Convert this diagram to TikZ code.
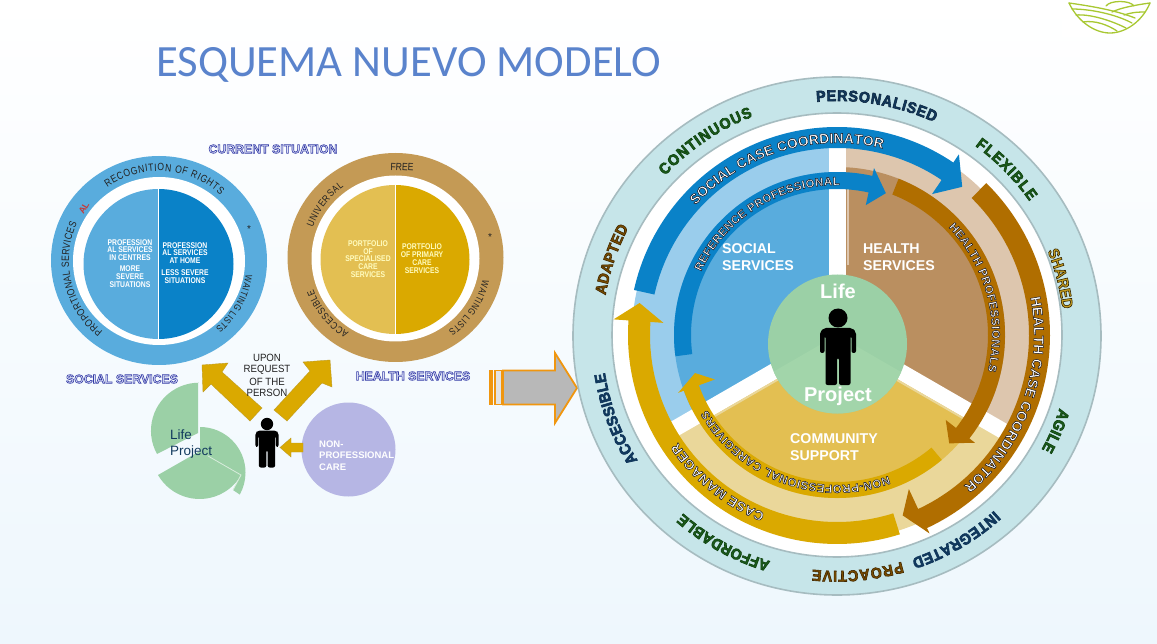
\documentclass[tikz,border=0pt]{standalone}
\usepackage{fontspec}
\setmainfont{Liberation Sans}
\newfontfamily\titlefont{Carlito}
\newfontfamily\arcfont[FakeStretch=0.92]{Liberation Sans}
\newfontfamily\narrowfont[FakeStretch=0.82]{Liberation Sans}
\usetikzlibrary{decorations.text}
\definecolor{bgbottom}{HTML}{EEF7FD}
\definecolor{ringfill}{HTML}{C6E5E9}
\definecolor{ringedge}{HTML}{A6BCC0}
\definecolor{ltblue}{HTML}{9ACDEC}
\definecolor{midblue}{HTML}{59ACDD}
\definecolor{deepblue}{HTML}{0A82C8}
\definecolor{lttan}{HTML}{DDC6AE}
\definecolor{midtan}{HTML}{BA8F60}
\definecolor{deepbrown}{HTML}{B06E00}
\definecolor{ltyellow}{HTML}{EAD79A}
\definecolor{midyellow}{HTML}{E3BF52}
\definecolor{deepgold}{HTML}{DAA900}
\definecolor{greenc}{HTML}{9BD0A6}
\definecolor{greenl}{HTML}{A2D5AA}
\definecolor{sandring}{HTML}{C49A55}
\definecolor{lavender}{HTML}{B6B6E4}
\definecolor{orangeb}{HTML}{F0960F}
\definecolor{grayb}{HTML}{B8B8B8}
\definecolor{titleblue}{HTML}{5A83CC}
\definecolor{logogreen}{HTML}{A8C832}
\definecolor{navy}{HTML}{123A5E}
\definecolor{dgreen}{HTML}{1C5C1C}
\definecolor{olive}{HTML}{C8A020}
\definecolor{brownt}{HTML}{7A4E00}
\definecolor{inkd}{HTML}{222222}
\definecolor{headfill}{HTML}{DFE2F8}
% outline text: fill colour, stroke rgb, stroke width, text
\newcommand\oltext[4]{{\color{#1}\special{pdf:code 2 Tr #3 w #2 RG}#4\special{pdf:code 0 Tr}}}
% bold ring text: cx cy r a1 a2 size fill strokergb text
\newcommand\arctext[9]{%
 \begin{scope}[shift={(#1,#2)},y=1pt]
 \path[decorate,decoration={text along path,text align=fit to path,
   text={|\arcfont\fontsize{#6}{#6}\selectfont\bfseries\color{#7}\special{pdf:code 2 Tr 0.6 w #8 RG}|#9}}]
   ({#3*cos(#4)},{#3*sin(#4)}) arc[start angle=#4,end angle=#5,radius=#3 pt];
 \end{scope}}
% outlined band text: cx cy r a1 a2 size text
\newcommand\bandtext[7]{%
 \begin{scope}[shift={(#1,#2)},y=1pt]
 \path[decorate,decoration={text along path,text align=fit to path,
   text={|\fontsize{#6}{#6}\selectfont\bfseries\color{white}\special{pdf:code 2 Tr 0.5 w 0.08 0.08 0.12 RG}|#7}}]
   ({#3*cos(#4)},{#3*sin(#4)}) arc[start angle=#4,end angle=#5,radius=#3 pt];
 \end{scope}}
\newcommand\thintext[7]{%
 \begin{scope}[shift={(#1,#2)},y=1pt]
 \path[decorate,decoration={text along path,text align=fit to path,
   text={|\narrowfont\fontsize{#6}{#6}\selectfont\color{inkd}|#7}}]
   ({#3*cos(#4)},{#3*sin(#4)}) arc[start angle=#4,end angle=#5,radius=#3 pt];
 \end{scope}}
% band arrow: colour a1 a2 rin rout barbin barbout tipang tipr
\newcommand\bandarrow[9]{%
 \fill[#1] (#2:#4) arc[start angle=#2,end angle=#3,radius=#4 pt]
   -- (#3:#6) -- (#8:#9) -- (#3:#7) -- (#3:#5)
   arc[start angle=#3,end angle=#2,radius=#5 pt] -- cycle;}
% person: cx cy(head) scale
\newcommand\person[3]{%
 \begin{scope}[shift={(#1,#2)},scale=#3]
  \fill[black] (0,0) circle[radius=9.5pt];
  \fill[black,rounded corners=2pt] (-14,10) -- (14,10) -- (18,14) -- (18,35) -- (13.5,35) -- (13.5,18) -- (12.5,18)
    -- (12.5,67) -- (1,67) -- (1,40) -- (-1,40) -- (-1,67) -- (-12.5,67) -- (-12.5,18) -- (-13.5,18) -- (-13.5,35) -- (-18,35) -- (-18,14) -- cycle;
 \end{scope}}
\tikzset{
 whitebold/.style={text=white,font=\narrowfont\bfseries\fontsize{8.3}{8.3}\selectfont,inner sep=0pt},
 creambold/.style={text=white!75!yellow,font=\narrowfont\bfseries\fontsize{8.3}{8.3}\selectfont,inner sep=0pt},
 labelwhite/.style={text=white,font=\bfseries\fontsize{14.2}{17}\selectfont,inner sep=0pt,align=left,anchor=west},
 lilabel/.style={text=white,font=\bfseries\fontsize{20}{20}\selectfont,inner sep=0pt},
 headtext/.style={font=\bfseries\fontsize{12.3}{13}\selectfont,inner sep=0pt},
 goldarrow/.style={fill=deepgold,draw=deepgold!70!gray,line width=0.4pt},
 logoline/.style={draw=logogreen,line width=1.3pt,line cap=round},
 blackc/.style={text=inkd,font=\arcfont\fontsize{10.5}{12}\selectfont,inner sep=0pt},
}
\begin{document}
\begin{tikzpicture}[x=1pt,y=-1pt]
\useasboundingbox (0,0) rectangle (1157,644);
\shade[top color=white,bottom color=bgbottom] (0,0) rectangle (1157,644);
% title
\node[anchor=base west,inner sep=0pt,text=titleblue,font=\titlefont\fontsize{44.7}{45}\selectfont] (title) at (156,77) {ESQUEMA NUEVO MODELO};
% logo
\fill[white] (1062,0) rectangle (1157,37);
\draw[logoline] (1069,3) .. controls (1078,22) and (1095,33) .. (1110,33) .. controls (1125,33) and (1142,22) .. (1150,3);
\draw[logoline] (1069,3) .. controls (1090,6) and (1115,10) .. (1135,18);
\draw[logoline] (1072,9) .. controls (1090,9) and (1115,14) .. (1132,23);
\draw[logoline] (1076,15) .. controls (1090,14) and (1110,20) .. (1126,28);
\draw[logoline] (1083,22) .. controls (1095,20) and (1108,25) .. (1117,31);
\draw[logoline] (1150,3) .. controls (1135,5) and (1120,8) .. (1112,12);
\draw[logoline] (1145,12) .. controls (1135,12) and (1130,13) .. (1124,15);
\draw[logoline] (1106,6) .. controls (1110,0) and (1130,0) .. (1134,6);

%%% LEFT: social services
\fill[midblue] (159,260.5) ellipse[x radius=108pt,y radius=104.5pt];
\fill[white] (159,261) ellipse[x radius=86pt,y radius=84pt];
\begin{scope}[shift={(158.5,264)},y=1pt]
 \fill[midblue] (90:75) arc[start angle=90,end angle=270,radius=75pt] -- cycle;
 \fill[deepblue] (-90:75) arc[start angle=-90,end angle=90,radius=75pt] -- cycle;
 \draw[white,line width=1pt] (0,76) -- (0,-76);
\end{scope}
\thintext{159}{261}{90}{125}{47}{10.5}{RECOGNITION OF RIGHTS}
\thintext{159}{261}{90}{231.5}{155.5}{10.5}{PROPORTIONAL SERVICES}
\thintext{159}{261}{88}{-9}{-50}{9.6}{WAITING LISTS}
\node[rotate=60,text=red!55!gray,font=\bfseries\fontsize{9}{9}\selectfont,inner sep=0pt] (al) at (84,208) {AL};
\node[text=inkd,font=\fontsize{10}{10}\selectfont,inner sep=0pt] (st1) at (249,229) {*};
\node[whitebold] (a1) at (130,243) {PROFESSION};
\node[whitebold] (a2) at (130,250) {AL SERVICES};
\node[whitebold] (a3) at (130,258) {IN CENTRES};
\node[whitebold] (a4) at (130,269) {MORE};
\node[whitebold] (a5) at (130,277) {SEVERE};
\node[whitebold] (a6) at (130,285) {SITUATIONS};
\node[whitebold] (b1) at (185,246) {PROFESSION};
\node[whitebold] (b2) at (185,253) {AL SERVICES};
\node[whitebold] (b3) at (185,261) {AT HOME};
\node[whitebold] (b4) at (185,273) {LESS SEVERE};
\node[whitebold] (b5) at (185,281) {SITUATIONS};

%%% LEFT: health services
\fill[sandring] (395.5,257.5) ellipse[x radius=108pt,y radius=104.5pt];
\fill[white] (395.5,258.5) ellipse[x radius=84pt,y radius=83pt];
\begin{scope}[shift={(395,259.5)},y=1pt]
 \fill[midyellow] (90:74.5) arc[start angle=90,end angle=270,radius=74.5pt] -- cycle;
 \fill[deepgold] (-90:74.5) arc[start angle=-90,end angle=90,radius=74.5pt] -- cycle;
 \draw[white,line width=1pt] (0,75) -- (0,-75);
\end{scope}
\node[rotate=-3,text=inkd,font=\narrowfont\fontsize{10.5}{11}\selectfont,inner sep=0pt] (free) at (402,167) {FREE};
\thintext{395.5}{258}{88}{160}{126}{10}{UNIVERSAL}
\thintext{395.5}{258}{88}{238}{201}{10}{ACCESSIBLE}
\thintext{395.5}{258}{90}{-14}{-54}{9.6}{WAITING LISTS}
\node[text=inkd,font=\fontsize{10}{10}\selectfont,inner sep=0pt] (st2) at (490,237) {*};
\node[creambold] (c1) at (368,244) {PORTFOLIO};
\node[creambold] (c2) at (368,252) {OF};
\node[creambold] (c3) at (368,259) {SPECIALISED};
\node[creambold] (c4) at (368,267) {CARE};
\node[creambold] (c5) at (368,275) {SERVICES};
\node[creambold] (d1) at (422,247) {PORTFOLIO};
\node[creambold] (d2) at (422,255) {OF PRIMARY};
\node[creambold] (d3) at (422,263) {CARE};
\node[creambold] (d4) at (422,271) {SERVICES};
% headings
\node[headtext] (cur) at (273,149) {\oltext{headfill}{0.2 0.23 0.65}{0.6}{CURRENT SITUATION}};
\node[headtext] (soc) at (122,379) {\oltext{headfill}{0.2 0.23 0.65}{0.6}{SOCIAL SERVICES}};
\node[headtext] (hea) at (413,376) {\oltext{headfill}{0.2 0.23 0.65}{0.6}{HEALTH SERVICES}};

%%% life project pie
\fill[greenc] (198,383) -- (198,433) -- (157,454) arc[start angle=209,end angle=90,radius=48pt] -- cycle;
\fill[greenc] (200,427) arc[start angle=90,end angle=-29,radius=45.5pt] -- (233,490) -- (241,475) -- (200,451) -- cycle;
\fill[greenc] (200,451) -- (158,475) arc[start angle=210,end angle=330,radius=48pt] -- cycle;
\draw[white!60!greenc,line width=0.8pt] (208,456) -- (241,475) -- (233,490);
\node[anchor=base west,text=navy,font=\fontsize{13.5}{13.5}\selectfont,inner sep=0pt] (life) at (170,439) {Life};
\node[anchor=base west,text=navy,font=\fontsize{13.5}{13.5}\selectfont,inner sep=0pt] (proj) at (170,455) {Project};

% gold arrows
\filldraw[goldarrow] (262,408) -- (222,372) -- (228,363) -- (202,365) -- (203,392) -- (211,384) -- (250,421) -- cycle;
\filldraw[goldarrow] (274,410) -- (310,371) -- (303,362) -- (330,360) -- (332,387) -- (322,383) -- (287,421) -- cycle;
\node[blackc] (u1) at (267,358) {UPON};
\node[blackc] (u2) at (267,370) {REQUEST};
\node[blackc] (u3) at (267,382) {OF THE};
\node[blackc] (u4) at (267,393) {PERSON};
\person{267}{424}{0.65}
\fill[lavender] (348.5,449.5) circle[radius=47pt];
\filldraw[goldarrow] (303,443) -- (291,443) -- (291,438) -- (280,447.5) -- (291,457) -- (291,452) -- (303,452) -- cycle;
\node[anchor=base west,text=white,font=\bfseries\fontsize{9.5}{9.5}\selectfont,inner sep=0pt] (n1) at (319,447) {NON-};
\node[anchor=base west,text=white,font=\bfseries\fontsize{9.5}{9.5}\selectfont,inner sep=0pt] (n2) at (319,458) {PROFESSIONAL};
\node[anchor=base west,text=white,font=\bfseries\fontsize{9.5}{9.5}\selectfont,inner sep=0pt] (n3) at (319,470) {CARE};

%%% block arrow
\fill[orangeb] (489,370) rectangle (493,405);
\draw[orangeb,line width=1.5pt,fill=white!60!grayb] (495,370.5) rectangle (502,404.5);
\draw[orangeb,line width=1.8pt,fill=grayb,line join=miter] (503,370.5) -- (555,370.5) -- (555,353) -- (577,388) -- (555,423) -- (555,404.5) -- (503,404.5) -- cycle;

%%% RIGHT big diagram
\fill[ringfill,draw=ringedge,line width=1.6pt] (837,336) ellipse[x radius=264pt,y radius=259pt];
\fill[white,draw=ringedge,line width=1.6pt] (837,335) ellipse[x radius=225pt,y radius=222pt];
\begin{scope}[shift={(837,335)},y=1pt]
 \fill[ltblue] (0,0) -- (90:205) arc[start angle=90,end angle=210,radius=205pt] -- cycle;
 \fill[lttan] (0,0) -- (-30:205) arc[start angle=-30,end angle=90,radius=205pt] -- cycle;
 \fill[ltyellow] (0,0) -- (210:205) arc[start angle=210,end angle=330,radius=205pt] -- cycle;
 \fill[midblue] (0,0) -- (90:163) arc[start angle=90,end angle=210,radius=163pt] -- cycle;
 \fill[midtan] (0,0) -- (-30:168) arc[start angle=-30,end angle=90,radius=168pt] -- cycle;
 \fill[midyellow] (0,0) -- (210:163) arc[start angle=210,end angle=330,radius=163pt] -- cycle;
 \draw[white,line width=17pt] (0,0) -- (90:214);
 \draw[white,line width=16pt] (0,0) -- (210:214);
 \draw[white,line width=16pt] (0,0) -- (-30:214);
 \draw[ltyellow,line width=2pt] ([shift={(4.5,-7.8)}]210:70) -- ([shift={(4.5,-7.8)}]210:160);
 \draw[ltyellow,line width=2pt] ([shift={(-4.5,-7.8)}]-30:70) -- ([shift={(-4.5,-7.8)}]-30:160);
 \draw[lttan,line width=2pt] (10.5,70) -- (10.5,160);
 % arrows: gold, brown, blue
 \bandarrow{deepgold}{-72.5}{-184}{187}{209}{174}{224}{-189.2}{200}
 \bandarrow{deepgold}{-50}{-160}{147}{163}{130}{169}{-165}{147}
 \bandarrow{deepbrown}{45.5}{-65}{192}{213}{170}{219}{-70}{192}
 \bandarrow{deepbrown}{68.5}{-38}{151}{168}{138}{175}{-44}{156}
 \bandarrow{deepblue}{167.5}{56}{187}{208}{170}{218}{49.8}{194}
 \bandarrow{deepblue}{187.5}{77.5}{146}{163}{133}{171}{71}{150}
\end{scope}
% centre circle
\fill[greenc] (837.5,344) circle[radius=69.5pt];
\begin{scope}
 \clip (837.5,344) circle[radius=69.5pt];
 \begin{scope}[shift={(837,335)},y=1pt]
  \fill[greenl] (0,0) -- (210:100) -- (270:120) -- (-30:100) -- cycle;
 \end{scope}
\end{scope}
\person{838}{318}{1}
\node[lilabel] (blife) at (838,291) {Life};
\node[lilabel] (bproj) at (838,396) {Project};
\node[labelwhite] (ss) at (722,257.5) {SOCIAL\\SERVICES};
\node[labelwhite] (hs) at (863,257.5) {HEALTH\\SERVICES};
\node[labelwhite] (cs) at (790,447) {COMMUNITY\\SUPPORT};

% band texts
\bandtext{837}{335}{192}{137.5}{77}{14}{SOCIAL CASE COORDINATOR}
\bandtext{837}{335}{150}{155}{89}{11.5}{REFERENCE PROFESSIONAL}
\bandtext{837}{335}{155}{44}{-13.5}{11.5}{HEALTH PROFESSIONALS}
\bandtext{837}{335}{197}{11}{-50}{14}{HEALTH CASE COORDINATOR}
\bandtext{837}{335}{150}{-70}{-150}{11.5}{NON-PROFESSIONAL CAREGIVERS}
\bandtext{837}{335}{192}{-112}{-146}{13.5}{CASE MANAGER}
% ring texts
\arctext{837}{336}{235}{95}{65.5}{15.5}{navy}{0.05 0.15 0.25}{PERSONALISED}
\arctext{837}{336}{235}{137}{111}{15.5}{dgreen}{0.05 0.25 0.05}{CONTINUOUS}
\arctext{837}{336}{235}{54}{35}{15.5}{dgreen}{0.05 0.25 0.05}{FLEXIBLE}
\arctext{837}{336}{227}{22}{7}{15.5}{olive}{0.2 0.14 0}{SHARED}
\arctext{837}{336}{234}{-18}{-29}{15.5}{dgreen}{0.05 0.25 0.05}{AGILE}
\arctext{837}{336}{235}{-48}{-71.5}{15.5}{navy}{0.05 0.2 0.35}{INTEGRATED}
\arctext{837}{336}{235}{-74}{-96}{15.5}{brownt}{0.25 0.15 0}{PROACTIVE}
\arctext{837}{336}{235}{-106.5}{-131}{15.5}{dgreen}{0.05 0.25 0.05}{AFFORDABLE}
\arctext{837}{336}{235}{212}{189}{15.5}{navy}{0.05 0.2 0.35}{ACCESSIBLE}
\arctext{837}{336}{235}{170}{152.5}{15.5}{brownt}{0.25 0.15 0}{ADAPTED}
\end{tikzpicture}
\end{document}
